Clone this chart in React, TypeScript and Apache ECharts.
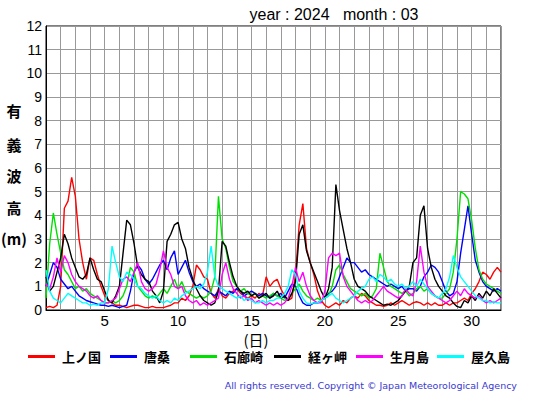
import React, { useEffect, useRef } from "react";
import * as echarts from "echarts";

// 6-hourly significant wave height (m), starting 1 Mar 00:00, step 0.25 day, to day 32.0
const red = [
  0.1,0.15,0.1,0.2, 1.0,4.3,4.6,5.6, 4.8,3.0,2.0,1.3, 2.2,2.1,1.5,1.0, 0.6,0.4,0.3,0.2,
  0.2,0.15,0.1,0.15, 0.2,0.2,0.15,0.1, 0.1,0.15,0.1,0.1, 0.1,0.15,0.2,0.3, 0.3,0.5,0.4,0.6,
  1.0,1.9,1.7,1.4, 1.3,0.7,0.5,0.9, 0.6,0.5,0.7,0.8, 0.9,0.7,0.6,0.5, 0.6,0.5,0.7,0.6,
  1.4,1.0,1.2,1.3, 0.9,0.6,0.4,0.5, 1.5,3.6,4.5,2.6, 2.0,1.5,0.8,0.4, 0.2,0.1,0.2,0.3,
  0.2,0.4,0.3,0.5, 0.6,0.5,0.7,0.6, 0.4,0.3,0.2,0.2, 0.15,0.2,0.3,0.2, 0.3,0.4,0.3,0.2,
  0.3,0.35,0.3,0.2, 0.3,0.2,0.3,0.2, 0.2,0.3,0.2,0.3, 0.3,0.4,0.5,0.4, 0.7,0.9,1.2,1.6,
  1.5,1.3,1.6,1.8, 1.6,
];
const blue = [
  1.0,1.5,2.0,1.8, 1.3,1.1,0.9,1.0, 0.8,0.6,0.5,0.4, 0.35,0.3,0.25,0.2, 0.2,0.15,0.2,0.15,
  0.1,0.15,0.2,0.8, 1.6,1.9,1.7,1.3, 1.1,1.3,1.6,1.9, 2.1,1.7,2.2,2.5, 1.5,1.8,2.1,1.6,
  1.2,1.0,1.1,0.9, 0.8,0.7,0.6,0.8, 0.7,0.6,0.8,0.7, 0.9,0.8,0.6,0.7, 0.8,0.7,0.6,0.7,
  0.6,0.5,0.7,0.6, 0.7,0.5,0.8,1.1, 1.0,0.6,0.3,0.2, 0.2,0.3,0.3,0.4, 0.5,0.7,0.8,1.0,
  1.4,1.8,2.2,2.0, 2.0,1.8,1.6,1.7, 1.5,1.4,1.3,1.2, 1.1,1.0,1.1,1.0, 0.9,1.0,0.8,0.9,
  0.9,0.8,1.0,1.4, 1.6,1.9,1.8,1.6, 1.2,0.8,0.6,0.7, 1.2,2.4,3.4,4.4, 3.2,2.1,1.6,1.2,
  1.0,0.9,0.8,0.9, 0.8,
];
const green = [
  0.5,2.8,4.1,3.2, 2.4,1.7,1.5,1.2, 0.9,1.0,0.8,0.9, 0.7,0.6,0.5,0.4, 0.3,0.3,0.4,0.3,
  0.4,0.6,1.0,1.8, 1.6,1.0,0.8,0.6, 0.5,0.6,0.5,0.7, 0.9,0.7,1.0,1.3, 0.9,1.2,0.8,0.7,
  0.6,0.5,0.6,0.5, 0.6,0.8,1.4,4.8, 3.0,2.6,1.8,1.2, 1.0,0.8,0.9,0.7, 0.6,0.7,0.5,0.6,
  0.5,0.6,0.7,0.6, 0.5,0.4,0.5,0.7, 0.9,1.1,0.8,0.6, 0.5,0.4,0.5,0.4, 0.5,0.6,1.0,1.7,
  1.9,1.5,1.2,0.9, 0.8,0.7,0.6,0.7, 0.5,0.6,0.9,2.4, 1.8,1.2,1.0,0.9, 0.8,0.7,0.8,0.6,
  0.7,0.9,1.0,0.8, 0.9,0.7,0.6,0.5, 0.5,0.7,0.9,1.6, 3.0,5.0,4.9,4.7, 3.8,2.6,1.7,1.3,
  1.1,1.0,0.9,0.8, 0.7,
];
const black = [
  1.4,0.8,1.0,1.6, 2.2,3.2,2.8,2.2, 1.8,1.4,1.3,1.5, 2.2,1.7,1.3,1.2, 0.8,0.4,0.3,0.6,
  1.0,2.4,3.8,3.6, 2.8,1.8,1.5,1.3, 1.2,0.8,0.6,0.3, 0.8,2.9,3.2,3.6, 3.7,3.0,2.6,1.8,
  1.3,0.9,0.6,0.4, 0.3,0.2,0.3,0.8, 2.9,2.7,2.0,1.4, 1.0,0.8,0.7,0.8, 0.6,0.7,0.5,0.6,
  0.7,0.5,0.6,0.8, 0.5,0.6,0.4,0.7, 1.2,3.2,3.6,2.5, 2.0,1.6,1.2,0.8, 0.5,0.9,1.8,5.3,
  4.2,3.4,2.6,2.0, 1.3,1.0,0.9,0.8, 0.6,0.5,0.4,0.3, 0.2,0.25,0.2,0.3, 0.4,0.6,0.8,1.0,
  2.0,2.2,4.0,4.4, 2.6,1.8,1.3,1.0, 0.8,0.6,0.5,0.3, 0.15,0.1,0.4,0.3, 0.6,0.4,0.7,0.5,
  0.8,0.6,0.9,0.7, 0.5,
];
const magenta = [
  1.1,0.9,1.4,2.2, 1.6,2.3,2.0,1.5, 1.2,1.0,0.9,0.8, 0.6,0.5,0.6,0.4, 0.3,0.3,0.4,0.5,
  0.9,1.3,1.4,1.2, 1.6,2.0,1.2,0.9, 0.8,0.9,1.1,1.7, 2.5,1.8,1.5,1.0, 0.9,1.0,0.6,0.4,
  0.3,0.4,0.2,0.3, 0.2,0.3,0.4,0.5, 1.5,2.0,1.3,0.9, 0.7,0.5,0.6,0.4, 0.5,0.3,0.4,0.3,
  0.2,0.3,0.2,0.3, 0.2,0.3,0.5,1.0, 1.8,1.2,1.6,1.0, 0.6,0.4,0.3,0.3, 0.8,2.2,2.4,2.3,
  2.4,1.4,1.0,0.8, 0.6,0.4,0.3,0.4, 0.3,0.4,0.6,0.8, 1.0,0.8,0.7,0.6, 0.5,0.6,0.9,0.7,
  0.6,1.2,2.7,1.6, 1.0,0.8,0.6,0.5, 0.4,0.3,0.4,0.6, 0.8,0.6,0.9,0.7, 0.6,0.5,0.6,0.4,
  0.3,0.4,0.3,0.4, 0.5,
];
const cyan = [
  1.7,0.8,0.5,0.4, 0.3,0.5,0.7,0.6, 0.5,0.4,0.3,0.3, 0.2,0.25,0.2,0.3, 0.3,0.9,2.7,2.0,
  1.4,1.2,1.6,1.5, 1.3,1.0,0.9,0.7, 0.6,0.5,0.6,0.4, 0.3,0.4,0.3,0.5, 0.4,0.6,0.7,0.8,
  0.9,1.0,0.9,1.1, 1.6,2.7,1.4,1.0, 0.9,0.8,0.7,0.6, 0.5,0.6,0.4,0.5, 0.4,0.3,0.3,0.4,
  0.3,0.4,0.4,0.5, 0.5,0.7,1.0,1.7, 1.5,0.8,0.5,0.3, 0.25,0.3,0.3,0.4, 0.5,0.6,0.7,0.5,
  0.4,0.3,0.4,0.5, 0.6,0.8,0.9,1.0, 1.3,1.4,1.2,1.5, 1.4,1.2,1.3,1.1, 1.0,1.1,0.9,1.0,
  1.2,1.0,1.3,1.1, 0.9,0.7,0.6,0.5, 0.7,0.9,1.4,2.3, 1.8,1.4,1.2,1.0, 0.8,0.6,0.5,0.4,
  0.4,0.3,0.35,0.3, 0.3,
];

const stationNames = ["上ノ国", "唐桑", "石廊崎", "経ヶ岬", "生月島", "屋久島"];
const stationColors = ["#ff0000", "#0000ff", "#00e000", "#000000", "#ff00ff", "#00ffff"];
const stationValues = [red, blue, green, black, magenta, cyan];
const legendLefts = [28, 110, 190, 274, 356, 437];
const yLabelChars = ["有", "義", "波", "高", "(m)"];
const yLabelYs = [110, 144, 175, 207, 238];

const START_DAY = 1;
const STEP = 0.25;

export default function App() {
  const ref = useRef<HTMLDivElement>(null);
  useEffect(() => {
    if (!ref.current) return;
    const chart = echarts.init(ref.current, null, { renderer: "svg" });
    const series = stationNames.map((name, k) => ({
      name,
      type: "line",
      showSymbol: false,
      symbol: "none",
      data: stationValues[k].map((v, i) => [START_DAY + i * STEP, v]),
      lineStyle: { color: stationColors[k], width: 1.4 },
      itemStyle: { color: stationColors[k] },
    }));
    const legends = stationNames.map((name, k) => ({
      data: [name],
      left: legendLefts[k],
      top: 350,
      padding: 0,
      itemWidth: 27,
      itemHeight: 3,
      icon: "rect",
      textStyle: {
        fontSize: 13,
        fontWeight: "bold",
        fontFamily: "Noto Sans CJK JP",
        color: "#000",
        padding: [0, 0, 0, 2],
      },
    }));
    const center = { align: "center", verticalAlign: "middle", textAlign: "center", textVerticalAlign: "middle" };
    const graphics: any[] = [
      {
        type: "text",
        x: 334,
        y: 14,
        style: {
          text: "year : 2024   month : 03",
          font: "16px 'Liberation Sans', Arial, sans-serif",
          fill: "#000",
          ...center,
        },
      },
      {
        type: "text",
        x: 256,
        y: 339,
        style: {
          text: "(日)",
          font: "15px 'Noto Sans CJK JP', sans-serif",
          fill: "#000",
          ...center,
        },
      },
      {
        type: "text",
        x: 517,
        y: 385,
        style: {
          text: "All rights reserved. Copyright © Japan Meteorological Agency",
          font: "9.5px 'DejaVu Sans', sans-serif",
          fill: "#3a3ad0",
          align: "right",
          verticalAlign: "middle",
          textAlign: "right",
          textVerticalAlign: "middle",
        },
      },
      ...yLabelChars.map((c, i) => ({
        type: "text",
        x: 14,
        y: yLabelYs[i],
        style: {
          text: c,
          font: "bold 15px 'Noto Sans CJK JP', sans-serif",
          fill: "#000",
          ...center,
        },
      })),
    ];
    chart.setOption({
      animation: false,
      backgroundColor: "#fff",
      grid: {
        left: 46,
        top: 26,
        right: 54,
        bottom: 85,
        show: true,
        borderColor: "#000",
        borderWidth: 1,
        containLabel: false,
      },
      legend: legends,
      xAxis: {
        type: "value",
        min: 1,
        max: 32,
        interval: 1,
        axisLine: { show: true, lineStyle: { color: "#000", width: 1 } },
        axisTick: { show: false },
        splitLine: { show: true, lineStyle: { color: "#999", width: 1 } },
        axisLabel: {
          margin: 3,
          fontSize: 15,
          fontFamily: "'Liberation Sans', Arial, sans-serif",
          color: "#000",
          formatter: (v: number) => (v % 5 === 0 ? String(v) : ""),
        },
      },
      yAxis: {
        type: "value",
        min: 0,
        max: 12,
        interval: 1,
        axisLine: { show: true, lineStyle: { color: "#000", width: 1 } },
        axisTick: { show: false },
        splitLine: { show: true, lineStyle: { color: "#999", width: 1 } },
        axisLabel: {
          margin: 4,
          fontSize: 14,
          fontFamily: "'Liberation Sans', Arial, sans-serif",
          color: "#000",
        },
      },
      graphic: graphics,
      series,
    });
    return () => chart.dispose();
  }, []);
  return (
    <div
      ref={ref}
      style={{ position: "fixed", left: 0, top: 0, width: 555, height: 395, background: "#fff" }}
    />
  );
}
